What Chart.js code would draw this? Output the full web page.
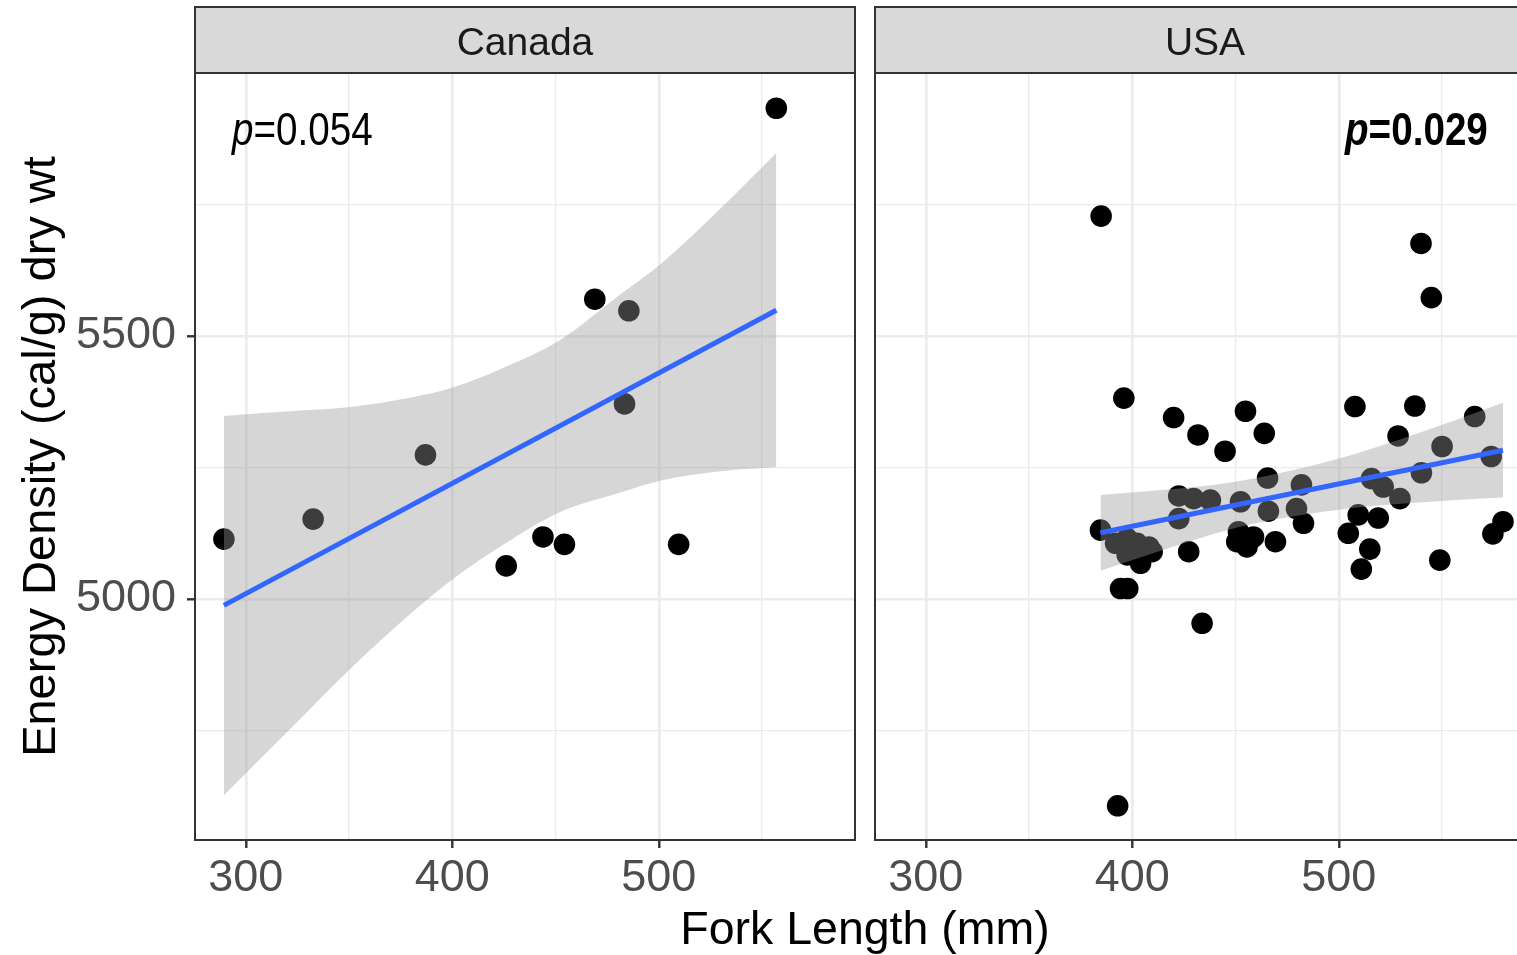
<!DOCTYPE html>
<html>
<head>
<meta charset="utf-8">
<script src="https://cdn.jsdelivr.net/npm/chart.js@4.4.1/dist/chart.umd.min.js"></script>
<style>
  html, body { margin: 0; padding: 0; background: #ffffff; overflow: hidden; }
  #wrap { position: relative; width: 1517px; height: 955px; overflow: hidden; }
  canvas { position: absolute; left: 0; top: 0; }
</style>
</head>
<body>
<div id="wrap">
  <canvas id="panelCanada" width="1560" height="955" style="width:1560px;height:955px"></canvas>
  <canvas id="panelUSA" width="1560" height="955" style="width:1560px;height:955px"></canvas>
</div>
<script>
// ---- Fish measurements: fork length (mm) and energy density (cal/g dry wt) ----
const canadaLength = [289.4, 332.6, 387.0, 426.1, 443.9, 454.3, 469.0, 485.5, 483.4, 509.6, 556.9];
const canadaEnergy = [5114, 5152, 5274, 5063, 5118, 5104, 5570, 5548, 5371, 5104, 5933];

const usaLength = [384.9, 539.8, 544.8, 395.9, 420.0, 431.8, 444.9, 454.8, 463.9, 507.8,
                   536.8, 528.7, 565.8, 550.0, 573.8, 540.0, 465.5, 481.9, 515.8, 521.5,
                   529.6, 422.5, 429.7, 437.8, 452.4, 465.9, 479.5, 422.5, 482.9, 509.4,
                   519.1, 504.6, 515.0, 510.9, 548.9, 579.5, 574.6, 384.6, 391.9, 397.5,
                   402.3, 408.0, 397.5, 404.0, 409.6, 427.3, 394.3, 397.8, 451.4, 450.6,
                   456.3, 458.7, 455.5, 469.3, 433.8, 392.9];
const usaEnergy = [5728, 5676, 5573, 5382, 5345, 5312, 5281, 5357, 5315, 5366,
                   5367, 5310, 5347, 5290, 5271, 5240, 5230, 5217, 5229, 5213,
                   5191, 5196, 5191, 5188, 5185, 5167, 5172, 5153, 5144, 5160,
                   5154, 5125, 5095, 5057, 5074, 5147, 5124, 5131, 5106, 5115,
                   5106, 5099, 5084, 5068, 5090, 5090, 5020, 5020, 5128, 5109,
                   5109, 5118, 5099, 5109, 4954, 4607];

// ---- Linear fits and their 95% confidence bands ----
const canadaFitLength = [289.4, 556.9];
const canadaFitEnergy = [4988, 5549];
const canadaBandLength = [289.4, 321, 350.5, 380, 401, 425, 452, 481, 501.5, 530, 556.9];
const canadaBandUpper  = [5348, 5357, 5365, 5383, 5403, 5440, 5492, 5578, 5639, 5743, 5848];
const canadaBandLower  = [4627, 4751, 4867, 4973, 5040, 5104, 5165, 5202, 5226, 5243, 5251];

const usaFitLength = [384.6, 579.5];
const usaFitEnergy = [5126, 5283];
const usaBandLength = [384.6, 420, 445, 470, 500, 530, 555, 579.5];
const usaBandUpper  = [5198, 5209, 5220, 5238, 5267, 5304, 5338, 5373];
const usaBandLower  = [5054, 5100, 5130, 5152, 5170, 5181, 5188, 5193];

// ---- Axis ticks (major ticks carry labels, minor ones only gridlines) ----
const xTicks = [300, 350, 400, 450, 500, 550];
const xTickLabels = ['300', '', '400', '', '500', ''];
const yTicks = [4750, 5000, 5250, 5500, 5750];
const yTickLabels = ['', '5000', '', '5500', ''];

const panelNames = ['Canada', 'USA'];
const pValues = ['0.054', '0.029'];

const FONT = '"Liberation Sans", Arial, Helvetica, sans-serif';
const X_RANGE = [275.4, 595.0];
const Y_RANGE = [4542, 6000];

// panel frames in page pixels (the second panel runs past the page edge)
const PANEL_TOP = 73;
const CANADA_LEFT = 195, CANADA_RIGHT = 855;
const USA_LEFT = 875, USA_RIGHT = 1535;
const CANVAS_W = 1560;

Chart.defaults.font.family = FONT;

function isMajor(ticks, labels, value) {
  const i = ticks.indexOf(value);
  return i >= 0 && labels[i] !== '';
}

// Strip, panel frame, p-value annotation and shared axis titles
const facetDecor = {
  id: 'facetDecor',
  afterDatasetsDraw(chart, args, opts) {
    const { ctx, chartArea: a } = chart;
    ctx.save();
    ctx.fillStyle = '#D9D9D9';
    ctx.fillRect(a.left, 7, a.right - a.left, a.top - 7);
    ctx.strokeStyle = '#333333';
    ctx.lineWidth = 2;
    ctx.strokeRect(a.left, 7, a.right - a.left, a.top - 7);
    ctx.strokeRect(a.left, a.top, a.right - a.left, a.bottom - a.top);
    ctx.fillStyle = '#1A1A1A';
    ctx.font = '39px ' + FONT;
    ctx.textAlign = 'center';
    ctx.textBaseline = 'alphabetic';
    ctx.fillText(opts.name, (a.left + a.right) / 2, 55);

    // p-value in condensed lettering, italic p
    const weight = opts.bold ? 'bold ' : '';
    ctx.save();
    ctx.translate(opts.pLeft, 145);
    ctx.scale(0.84, 1);
    ctx.fillStyle = '#000000';
    ctx.textAlign = 'left';
    ctx.font = 'italic ' + weight + '46px ' + FONT;
    ctx.fillText('p', 0, 0);
    const pw = ctx.measureText('p').width;
    ctx.font = weight + '46px ' + FONT;
    ctx.fillText('=' + opts.p, pw, 0);
    ctx.restore();

    if (opts.yTitle) {
      ctx.save();
      ctx.translate(55, (a.top + a.bottom) / 2);
      ctx.rotate(-Math.PI / 2);
      ctx.fillStyle = '#000000';
      ctx.font = '47px ' + FONT;
      ctx.textAlign = 'center';
      ctx.textBaseline = 'alphabetic';
      ctx.fillText(opts.yTitle, 0, 0);
      ctx.restore();
    }
    if (opts.xTitle) {
      ctx.fillStyle = '#000000';
      ctx.font = '46.5px ' + FONT;
      ctx.textAlign = 'center';
      ctx.textBaseline = 'alphabetic';
      ctx.fillText(opts.xTitle, (CANADA_LEFT + USA_RIGHT) / 2, 944);
    }
    ctx.restore();
  }
};

function toPoints(xs, ys) {
  return xs.map((x, i) => ({ x: x, y: ys[i] }));
}

function buildPanel(canvasId, d) {
  return new Chart(document.getElementById(canvasId), {
    type: 'scatter',
    data: {
      datasets: [
        { label: 'fish', data: toPoints(d.length, d.energy), backgroundColor: '#000000',
          borderWidth: 0, pointRadius: 10.8, pointHoverRadius: 10.8, order: 3 },
        { label: 'band upper', type: 'line', data: toPoints(d.bandLength, d.bandUpper),
          borderColor: 'rgba(0,0,0,0)', borderWidth: 0, pointRadius: 0, fill: '+1',
          backgroundColor: 'rgba(153,153,153,0.4)', cubicInterpolationMode: 'monotone', order: 2 },
        { label: 'band lower', type: 'line', data: toPoints(d.bandLength, d.bandLower),
          borderColor: 'rgba(0,0,0,0)', borderWidth: 0, pointRadius: 0, fill: false,
          cubicInterpolationMode: 'monotone', order: 2 },
        { label: 'fit', type: 'line', data: toPoints(d.fitLength, d.fitEnergy),
          borderColor: '#3366FF', borderWidth: 5, pointRadius: 0, fill: false, order: 1 }
      ]
    },
    options: {
      responsive: false,
      animation: false,
      devicePixelRatio: 1,
      layout: { padding: { left: d.left - d.yAxisWidth, top: PANEL_TOP, right: CANVAS_W - d.right, bottom: 0 } },
      plugins: {
        legend: { display: false },
        tooltip: { enabled: false },
        facetDecor: d.decor
      },
      scales: {
        x: {
          type: 'linear',
          position: 'bottom',
          min: X_RANGE[0],
          max: X_RANGE[1],
          afterBuildTicks: (axis) => { axis.ticks = xTicks.map(v => ({ value: v })); },
          afterFit: (axis) => { axis.height = 115; },
          border: { display: false },
          grid: {
            color: '#EBEBEB',
            lineWidth: (c) => isMajor(xTicks, xTickLabels, c.tick.value) ? 2.6 : 1.3,
            tickColor: (c) => isMajor(xTicks, xTickLabels, c.tick.value) ? '#333333' : 'rgba(0,0,0,0)',
            tickWidth: 2.4,
            tickLength: 8
          },
          ticks: {
            autoSkip: false,
            maxRotation: 0,
            padding: 4,
            color: '#4D4D4D',
            font: { size: 45, family: FONT },
            callback: (v) => { const i = xTicks.indexOf(v); return i >= 0 ? xTickLabels[i] : ''; }
          }
        },
        y: {
          type: 'linear',
          min: Y_RANGE[0],
          max: Y_RANGE[1],
          afterBuildTicks: (axis) => { axis.ticks = yTicks.map(v => ({ value: v })); },
          afterFit: (axis) => { axis.width = d.yAxisWidth; },
          border: { display: false },
          grid: {
            color: '#EBEBEB',
            lineWidth: (c) => isMajor(yTicks, yTickLabels, c.tick.value) ? 2.6 : 1.3,
            tickColor: (c) => isMajor(yTicks, yTickLabels, c.tick.value) ? '#333333' : 'rgba(0,0,0,0)',
            tickWidth: 2.4,
            tickLength: 8,
            drawTicks: d.showYTicks
          },
          ticks: {
            display: d.showYTicks,
            autoSkip: false,
            padding: 11,
            color: '#4D4D4D',
            font: { size: 45, family: FONT },
            callback: (v) => { const i = yTicks.indexOf(v); return i >= 0 ? yTickLabels[i] : ''; }
          }
        }
      }
    },
    plugins: [facetDecor]
  });
}

// nudge the layout padding so each plot area lands exactly on its frame
function pinArea(chart, left, right) {
  const pad = chart.options.layout.padding;
  const dl = left - chart.chartArea.left;
  const dr = chart.chartArea.right - right;
  if (Math.abs(dl) > 0.05 || Math.abs(dr) > 0.05) {
    pad.left += dl;
    pad.right += dr;
    chart.update();
  }
}

const chartCanada = buildPanel('panelCanada', {
  length: canadaLength, energy: canadaEnergy,
  fitLength: canadaFitLength, fitEnergy: canadaFitEnergy,
  bandLength: canadaBandLength, bandUpper: canadaBandUpper, bandLower: canadaBandLower,
  left: CANADA_LEFT, right: CANADA_RIGHT,
  yAxisWidth: CANADA_LEFT,
  showYTicks: true,
  decor: { name: panelNames[0], p: pValues[0], bold: false, pLeft: 232,
           yTitle: 'Energy Density (cal/g) dry wt' }
});

const chartUSA = buildPanel('panelUSA', {
  length: usaLength, energy: usaEnergy,
  fitLength: usaFitLength, fitEnergy: usaFitEnergy,
  bandLength: usaBandLength, bandUpper: usaBandUpper, bandLower: usaBandLower,
  left: USA_LEFT, right: USA_RIGHT,
  yAxisWidth: 0,
  showYTicks: false,
  decor: { name: panelNames[1], p: pValues[1], bold: true, pLeft: 1345,
           xTitle: 'Fork Length (mm)' }
});

pinArea(chartCanada, CANADA_LEFT, CANADA_RIGHT);
pinArea(chartUSA, USA_LEFT, USA_RIGHT);
</script>
</body>
</html>
